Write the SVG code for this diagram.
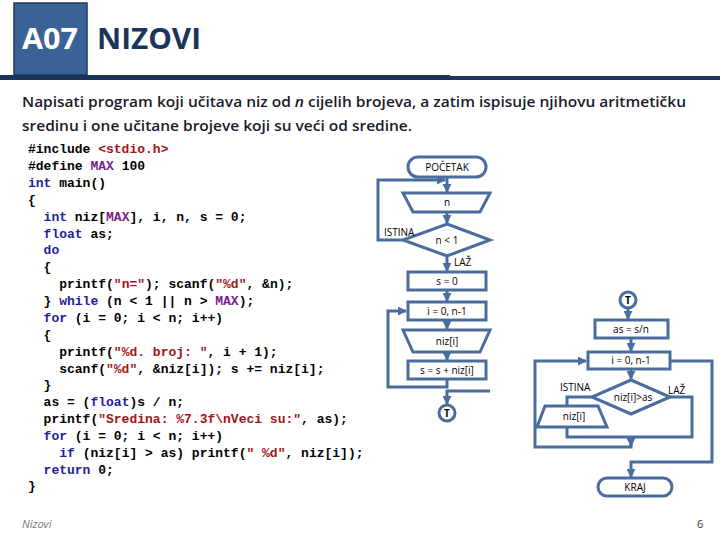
<svg xmlns="http://www.w3.org/2000/svg" width="720" height="540" viewBox="0 0 720 540">
<style>
.c{font-family:"Liberation Mono",monospace;font-size:13px;font-weight:bold;fill:#000;white-space:pre}
.k{fill:#1e1e9a}.s{fill:#a31515}.m{fill:#7a1a8a}
.sh{fill:#fff;stroke:#4a6d9e;stroke-width:3}
.ln{fill:none;stroke:#4a6d9e;stroke-width:3}
.t{font-family:"Open Sans","Liberation Sans",sans-serif;font-size:10px;text-anchor:middle;fill:#000}
.l{font-family:"Open Sans","Liberation Sans",sans-serif;font-size:10px;fill:#000}
</style>
<defs><marker id="a" viewBox="0 0 10 10" refX="9" refY="5" markerWidth="3" markerHeight="3" orient="auto"><path d="M0,0L10,5L0,10z" fill="#4a6d9e"/></marker></defs>
<rect width="720" height="540" fill="#fff"/>
<g id="header">
<rect x="14" y="3" width="73" height="72" fill="#3a6296" stroke="#203a5c" stroke-width="1.5"/>
<text x="22" y="49" font-family="Open Sans,Liberation Sans,sans-serif" font-size="28" font-weight="bold" textLength="56" lengthAdjust="spacingAndGlyphs" fill="#fff">A07</text>
<text x="97" y="49" font-family="Open Sans,Liberation Sans,sans-serif" font-size="28" font-weight="bold" textLength="104" lengthAdjust="spacingAndGlyphs" fill="#1b3558">NIZOVI</text>
<rect x="0" y="75" width="450" height="5" fill="#1b3558"/><rect x="450" y="76" width="270" height="4" fill="#1b3558"/>
<text x="22" y="107" font-family="Open Sans,Liberation Sans,sans-serif" font-size="15" font-weight="600" textLength="664" lengthAdjust="spacingAndGlyphs" fill="#1a1a2a">Napisati program koji učitava niz od <tspan font-style="italic">n</tspan> cijelih brojeva, a zatim ispisuje njihovu aritmetičku</text>
<text x="22" y="131" font-family="Open Sans,Liberation Sans,sans-serif" font-size="15" font-weight="600" textLength="390" lengthAdjust="spacingAndGlyphs" fill="#1a1a2a">sredinu i one učitane brojeve koji su veći od sredine.</text>
</g>
<g id="code">
<text class="c" x="28" y="153">#include <tspan class="s">&lt;stdio.h&gt;</tspan></text>
<text class="c" x="28" y="170">#define <tspan class="m">MAX</tspan> 100</text>
<text class="c" x="28" y="187"><tspan class="k">int</tspan> main()</text>
<text class="c" x="28" y="204">{</text>
<text class="c" x="28" y="221">  <tspan class="k">int</tspan> niz[<tspan class="m">MAX</tspan>], i, n, s = 0;</text>
<text class="c" x="28" y="238">  <tspan class="k">float</tspan> as;</text>
<text class="c" x="28" y="254">  <tspan class="k">do</tspan></text>
<text class="c" x="28" y="271">  {</text>
<text class="c" x="28" y="288">    printf(<tspan class="s">"n="</tspan>); scanf(<tspan class="s">"%d"</tspan>, &amp;n);</text>
<text class="c" x="28" y="305">  } <tspan class="k">while</tspan> (n &lt; 1 || n &gt; <tspan class="m">MAX</tspan>);</text>
<text class="c" x="28" y="322">  <tspan class="k">for</tspan> (i = 0; i &lt; n; i++)</text>
<text class="c" x="28" y="339">  {</text>
<text class="c" x="28" y="356">    printf(<tspan class="s">"%d. broj: "</tspan>, i + 1);</text>
<text class="c" x="28" y="373">    scanf(<tspan class="s">"%d"</tspan>, &amp;niz[i]); s += niz[i];</text>
<text class="c" x="28" y="389">  }</text>
<text class="c" x="28" y="406">  as = (<tspan class="k">float</tspan>)s / n;</text>
<text class="c" x="28" y="423">  printf(<tspan class="s">"Sredina: %7.3f\nVeci su:"</tspan>, as);</text>
<text class="c" x="28" y="440">  <tspan class="k">for</tspan> (i = 0; i &lt; n; i++)</text>
<text class="c" x="28" y="457">    <tspan class="k">if</tspan> (niz[i] &gt; as) printf(<tspan class="s">" %d"</tspan>, niz[i]);</text>
<text class="c" x="28" y="474">  <tspan class="k">return</tspan> 0;</text>
<text class="c" x="28" y="490">}</text>
</g>
<g id="connectors">
<path class="ln" d="M447,177V192" marker-end="url(#a)"/>
<path class="ln" d="M403,240H378V180H445" marker-end="url(#a)"/>
<path class="ln" d="M447,212V223" marker-end="url(#a)"/>
<path class="ln" d="M447,256V271" marker-end="url(#a)"/>
<path class="ln" d="M447,290V301" marker-end="url(#a)"/>
<path class="ln" d="M447,320V329" marker-end="url(#a)"/>
<path class="ln" d="M447,352V360" marker-end="url(#a)"/>
<path class="ln" d="M447,379V387H388V311H406" marker-end="url(#a)"/>
<path class="ln" d="M490,391H447V404" marker-end="url(#a)"/>
<path class="ln" d="M628,308V319" marker-end="url(#a)"/>
<path class="ln" d="M631,338V351" marker-end="url(#a)"/>
<path class="ln" d="M631,369V379" marker-end="url(#a)"/>
<path class="ln" d="M592,397H567V405"/>
<path class="ln" d="M567,427V437H692V397H670"/>
<path class="ln" d="M631,437V446" marker-end="url(#a)"/>
<path class="ln" d="M631,440V447H535V361H586" marker-end="url(#a)"/>
<path class="ln" d="M670,361H712V462H631V477" marker-end="url(#a)"/>
</g>
<g id="pocetak"><rect class="sh" x="408" y="157" width="78" height="20" rx="10"/><text class="t" x="447" y="171">POČETAK</text></g>
<g id="in_n"><path class="sh" d="M403,193H490L480,212H413Z"/><text class="t" x="447" y="206">n</text></g>
<g id="d1"><path class="sh" d="M447,224L490,240L447,256L403,240Z"/><text class="t" x="447" y="244">n &lt; 1</text></g>
<text class="l" x="384" y="236">ISTINA</text><text class="l" x="454" y="266">LAŽ</text>
<g id="s0"><rect class="sh" x="408" y="272" width="78" height="18"/><text class="t" x="447" y="285">s = 0</text></g>
<g id="for1"><rect class="sh" x="408" y="302" width="78" height="18"/><text class="t" x="447" y="315">i = 0, n-1</text></g>
<g id="in_niz"><path class="sh" d="M403,330H490L480,352H413Z"/><text class="t" x="447" y="345">niz[i]</text></g>
<g id="sum"><rect class="sh" x="408" y="361" width="78" height="18"/><text class="t" x="447" y="374">s = s + niz[i]</text></g>
<g id="t1"><circle class="sh" cx="447" cy="413" r="8"/><text class="t" x="447" y="417" font-weight="bold">T</text></g>
<g id="t2"><circle class="sh" cx="628" cy="300" r="8"/><text class="t" x="628" y="304" font-weight="bold">T</text></g>
<g id="as"><rect class="sh" x="595" y="320" width="73" height="18"/><text class="t" x="631" y="333">as = s/n</text></g>
<g id="for2"><rect class="sh" x="588" y="352" width="82" height="17"/><text class="t" x="631" y="364">i = 0, n-1</text></g>
<g id="d2"><path class="sh" d="M631,380L670,397L631,414L592,397Z"/><text class="t" x="633" y="401">niz[i]&gt;as</text></g>
<text class="l" x="560" y="391">ISTINA</text><text class="l" x="668" y="394">LAŽ</text>
<g id="out"><path class="sh" d="M545,406H598L607,427H537Z"/><text class="t" x="574" y="420">niz[i]</text></g>
<g id="kraj"><rect class="sh" x="598" y="478" width="74" height="18" rx="9"/><text class="t" x="635" y="491">KRAJ</text></g>
<g id="footer"><text x="22" y="528" font-family="Open Sans,Liberation Sans,sans-serif" font-size="11" font-style="italic" fill="#777">Nizovi</text><text x="697" y="528" font-family="Open Sans,Liberation Sans,sans-serif" font-size="11" fill="#333">6</text></g>
</svg>
